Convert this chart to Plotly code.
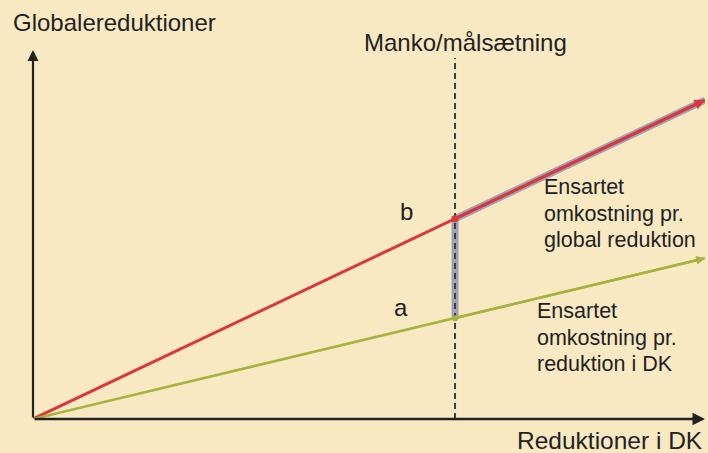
import plotly.graph_objects as go

# Data (schematic values)
x_pts = [0, 6.28, 10]
red_y = [0, 3.0, 4.78]      # Ensartet omkostning pr. global reduktion
green_y = [0, 1.51, 2.41]   # Ensartet omkostning pr. reduktion i DK
manko_x = 6.28
dash_top = 5.41
x_max = 10
y_max = 5.53

BG = "#F8E9C3"
RED = "#D8383B"
GREEN = "#A8B23E"
GREY = "#9CA4B6"
INK = "#222222"
FONT = "Liberation Sans, Arial, sans-serif"

W, H = 708, 453
L, T, PW, PH = 33, 50, 672, 369

fig = go.Figure()

fig.add_trace(go.Scatter(x=[manko_x, manko_x, x_pts[2]], y=[green_y[1], red_y[1], red_y[2]],
                         mode="lines", line=dict(color=GREY, width=7), hoverinfo="skip"))
fig.add_trace(go.Scatter(x=[manko_x, manko_x], y=[0, dash_top], mode="lines",
                         line=dict(color="#3a3f4a", width=2, dash="6px,4px"), hoverinfo="skip"))
fig.add_trace(go.Scatter(x=x_pts, y=red_y, mode="lines", line=dict(color=RED, width=3)))
fig.add_trace(go.Scatter(x=x_pts, y=green_y, mode="lines", line=dict(color=GREEN, width=2.5)))
fig.add_trace(go.Scatter(x=[manko_x], y=[red_y[1]], mode="markers",
                         marker=dict(color=RED, size=7), cliponaxis=False))
fig.add_trace(go.Scatter(x=[manko_x], y=[green_y[1]], mode="markers",
                         marker=dict(color=GREEN, size=6), cliponaxis=False))

ann = []
ann.append(dict(x=0, y=y_max, ax=0, ay=0, xref="x", yref="y", axref="x", ayref="y",
                showarrow=True, arrowhead=2, arrowsize=1, arrowwidth=2.2, arrowcolor=INK, text=""))
ann.append(dict(x=x_max, y=0, ax=0, ay=0, xref="x", yref="y", axref="x", ayref="y",
                showarrow=True, arrowhead=2, arrowsize=1, arrowwidth=2.5, arrowcolor=INK, text=""))
ann.append(dict(x=x_pts[2], y=red_y[2], ax=x_pts[1], ay=red_y[1], xref="x", yref="y",
                axref="x", ayref="y", showarrow=True, arrowhead=2, arrowsize=0.7,
                arrowwidth=3, arrowcolor=RED, text=""))
ann.append(dict(x=x_pts[2], y=green_y[2], ax=x_pts[1], ay=green_y[1], xref="x", yref="y",
                axref="x", ayref="y", showarrow=True, arrowhead=2, arrowsize=0.7,
                arrowwidth=2.5, arrowcolor=GREEN, text=""))

def to_paper(xp, yp):
    return (xp - L) / PW, 1 - (yp - T) / PH

def add_text(xp, yp, s, size=24, xanchor="left"):
    px_, py_ = to_paper(xp, yp)
    ann.append(dict(x=px_, y=py_, xref="paper", yref="paper", text=s, showarrow=False,
                    xanchor=xanchor, yanchor="middle", align="left",
                    font=dict(family=FONT, size=size, color=INK)))

add_text(11, 22, "Globalereduktioner", 24, "left")
add_text(465, 42, "Manko/målsætning", 24, "center")
add_text(705, 440, "Reduktioner i DK", 24.5, "right")
add_text(406, 212, "b", 24, "center")
add_text(401, 307, "a", 24, "center")

for i, line in enumerate(["Ensartet", "omkostning pr.", "global reduktion"]):
    add_text(542, 187 + 26.5 * i, line, 21.5)
for i, line in enumerate(["Ensartet", "omkostning pr.", "reduktion i DK"]):
    add_text(535, 311 + 26.5 * i, line, 21.5)

fig.update_layout(
    width=W, height=H,
    margin=dict(l=L, r=W - L - PW, t=T, b=H - T - PH),
    paper_bgcolor=BG, plot_bgcolor=BG,
    showlegend=False,
    xaxis=dict(range=[0, x_max], visible=False, fixedrange=True),
    yaxis=dict(range=[0, y_max], visible=False, fixedrange=True),
    annotations=ann,
)
fig.write_html("out.html", config={"displayModeBar": False},
               post_script="document.body.style.margin='0';document.body.style.background='%s';" % BG)
